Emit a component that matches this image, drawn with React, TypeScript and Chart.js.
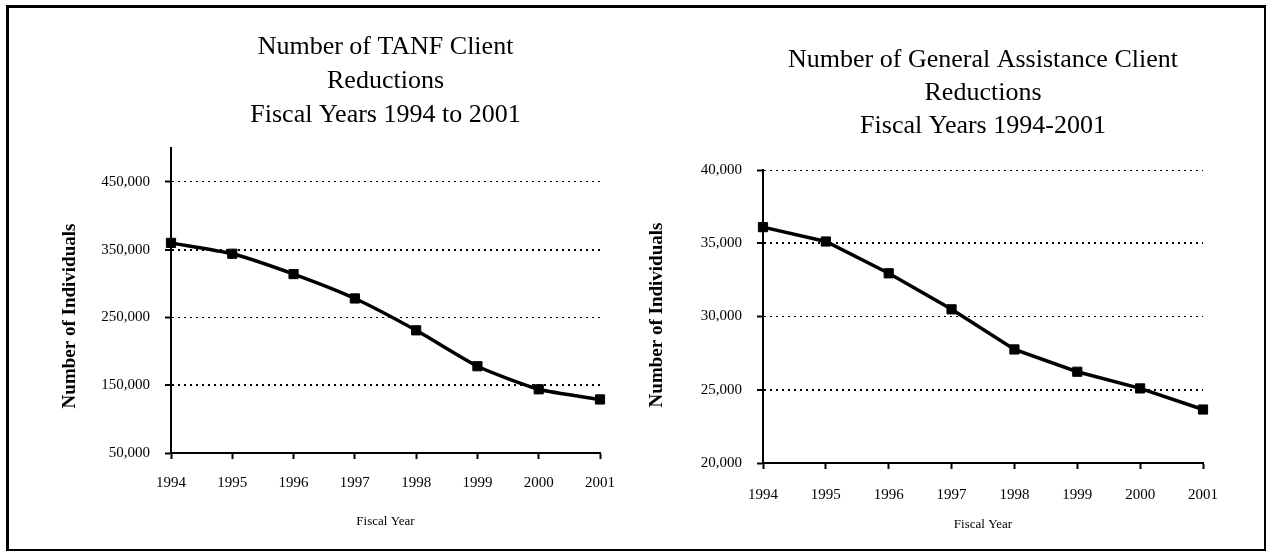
import React, { useEffect, useRef } from "react";
import { Chart, registerables } from "chart.js";

Chart.register(...registerables);

const FONT = "'Liberation Serif', 'Times New Roman', serif";

// ---- data ----
const years = ["1994", "1995", "1996", "1997", "1998", "1999", "2000", "2001"];
const tanfClients = [360000, 344000, 314000, 278000, 231000, 178000, 144000, 129000];
const gaClients = [36100, 35120, 32950, 30490, 27750, 26230, 25090, 23650];

const tanfTicks = [50000, 150000, 250000, 350000, 450000];
const gaTicks = [20000, 25000, 30000, 35000, 40000];

const tanfTitle = ["Number of TANF Client", "Reductions", "Fiscal Years 1994 to 2001"];
const gaTitle = ["Number of General Assistance Client", "Reductions", "Fiscal Years 1994-2001"];

const yAxisTitle = "Number of Individuals";
const xAxisTitle = "Fiscal Year";

function makeTitlePlugin(lines: string[], top: number, lineH: number, yX: number, yY: number) {
  return {
    id: "customTitles",
    afterDraw(chart: any) {
      const { ctx, chartArea } = chart;
      const cx = (chartArea.left + chartArea.right) / 2;
      ctx.save();
      ctx.fillStyle = "#000";
      ctx.textAlign = "center";
      ctx.textBaseline = "middle";
      ctx.font = `26px ${FONT}`;
      lines.forEach((l, i) => ctx.fillText(l, cx, top + i * lineH));
      ctx.translate(yX, yY);
      ctx.rotate(-Math.PI / 2);
      ctx.font = `bold 19px ${FONT}`;
      ctx.fillText(yAxisTitle, 0, 0);
      ctx.restore();
    },
  };
}

function buildChart(
  canvas: HTMLCanvasElement,
  values: number[],
  ticks: number[],
  yMin: number,
  yMax: number,
  yWidth: number,
  xHeight: number,
  padTop: number,
  padRight: number,
  tickPad: number,
  xTitlePad: number,
  tension: number,
  plugin: any
) {
  return new Chart(canvas, {
    type: "line",
    data: {
      labels: years,
      datasets: [
        {
          data: values,
          borderColor: "#000",
          backgroundColor: "#000",
          borderWidth: 3.5,
          tension,
          pointStyle: "rect",
          pointRadius: 6.5,
          pointBorderWidth: 1,
          pointBackgroundColor: "#000",
          pointBorderColor: "#000",
        },
      ],
    },
    options: {
      responsive: false,
      animation: false,
      layout: { padding: { top: padTop, right: padRight, left: 0, bottom: 0 } },
      plugins: { legend: { display: false }, tooltip: { enabled: false } },
      scales: {
        x: {
          offset: false,
          afterFit: (s: any) => {
            s.height = xHeight;
          },
          border: { display: true, color: "#000", width: 2 },
          grid: {
            drawOnChartArea: false,
            drawTicks: true,
            tickLength: 6,
            tickColor: "#000",
            tickWidth: 2,
          },
          ticks: {
            color: "#000",
            font: { family: FONT, size: 15 },
            padding: tickPad,
            maxRotation: 0,
            autoSkip: false,
          },
          title: {
            display: true,
            text: xAxisTitle,
            color: "#000",
            font: { family: FONT, size: 13 },
            padding: { top: 0, bottom: xTitlePad },
          },
        },
        y: {
          min: yMin,
          max: yMax,
          afterFit: (s: any) => {
            s.width = yWidth;
          },
          afterBuildTicks: (s: any) => {
            s.ticks = ticks.map((v) => ({ value: v }));
          },
          border: { display: true, color: "#000", width: 2, dash: [2, 4] },
          grid: {
            color: "#000",
            lineWidth: (c: any) => (c.index % 2 === 1 ? 2 : 1),
            drawTicks: true,
            tickLength: 6,
            tickColor: "#000",
            tickWidth: 2,
            tickBorderDash: [],
          },
          ticks: {
            color: "#000",
            font: { family: FONT, size: 15 },
            padding: 15,
            callback: (v: any) => Number(v).toLocaleString("en-US"),
          },
        },
      },
    },
    plugins: [plugin],
  } as any);
}

export default function App() {
  const leftRef = useRef<HTMLCanvasElement>(null);
  const rightRef = useRef<HTMLCanvasElement>(null);

  useEffect(() => {
    document.body.style.margin = "0";
    const c1 = buildChart(
      leftRef.current!,
      tanfClients,
      tanfTicks,
      50000,
      500000,
      162,
      95,
      140,
      22,
      15,
      19,
      0.2,
      makeTitlePlugin(tanfTitle, 39, 34, 61, 308)
    );
    const c2 = buildChart(
      rightRef.current!,
      gaClients,
      gaTicks,
      20000,
      40000,
      123,
      85,
      162,
      62,
      17,
      16,
      0,
      makeTitlePlugin(gaTitle, 52, 33, 17, 307)
    );
    return () => {
      c1.destroy();
      c2.destroy();
    };
  }, []);

  return (
    <div style={{ position: "absolute", left: 0, top: 0, width: 1267, height: 552, background: "#fff" }}>
      <div
        style={{
          position: "absolute",
          left: 6,
          top: 5,
          width: 1260,
          height: 546,
          boxSizing: "border-box",
          borderTop: "3px solid #000",
          borderLeft: "3px solid #000",
          borderRight: "2px solid #000",
          borderBottom: "2px solid #000",
        }}
      />
      <canvas ref={leftRef} width={621} height={540} style={{ position: "absolute", left: 9, top: 8 }} />
      <canvas ref={rightRef} width={625} height={540} style={{ position: "absolute", left: 640, top: 8 }} />
    </div>
  );
}
